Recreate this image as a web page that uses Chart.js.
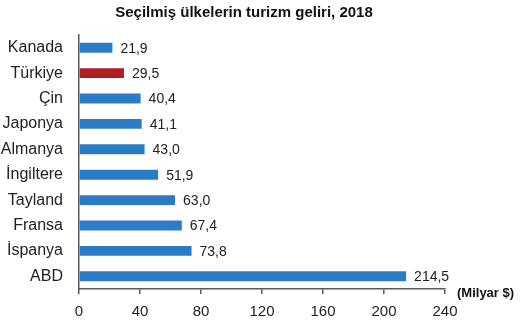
<!DOCTYPE html>
<html>
<head>
<meta charset="utf-8">
<script src="https://cdn.jsdelivr.net/npm/chart.js@4/dist/chart.umd.min.js"></script>
<style>
  html, body { margin: 0; padding: 0; background: #fff; }
  #wrap { width: 523px; height: 334px; position: relative; }
</style>
</head>
<body>
<div id="wrap"><canvas id="chart"></canvas></div>
<script>
// Seçilmiş ülkelerin turizm geliri, 2018 (milyar $)
const title = 'Seçilmiş ülkelerin turizm geliri, 2018';
const countries = ['Kanada', 'Türkiye', 'Çin', 'Japonya', 'Almanya', 'İngiltere', 'Tayland', 'Fransa', 'İspanya', 'ABD'];
const revenue = [21.9, 29.5, 40.4, 41.1, 43.0, 51.9, 63.0, 67.4, 73.8, 214.5];
const xTicks = [0, 40, 80, 120, 160, 200, 240];

const BLUE = '#2b7cc7';
const RED = '#b01f24';
const AXIS = '#595959';
const FONT = '"Liberation Sans", Arial, sans-serif';

const barColors = countries.map((c) => (c === 'Türkiye' ? RED : BLUE));

// başlık, değer etiketleri (virgüllü) ve birim yazısı
const labelPlugin = {
    id: 'valueLabels',
    afterDatasetsDraw(chart) {
        const { ctx } = chart;
        const meta = chart.getDatasetMeta(0);
        ctx.save();
        ctx.textBaseline = 'middle';

        ctx.font = 'bold 15px ' + FONT;
        ctx.fillStyle = '#111';
        ctx.textAlign = 'center';
        ctx.fillText(title, 244, 13);

        ctx.font = '14px ' + FONT;
        ctx.fillStyle = '#222';
        ctx.textAlign = 'left';
        meta.data.forEach((bar, i) => {
            ctx.fillText(revenue[i].toFixed(1).replace('.', ','), bar.x + 8, bar.y + 1);
        });

        const x = chart.scales.x;
        ctx.font = 'bold 13px ' + FONT;
        ctx.fillStyle = '#111';
        ctx.fillText('(Milyar $)', x.right + 12, x.top + 4);
        ctx.restore();
    },
};

new Chart(document.getElementById('chart'), {
    type: 'bar',
    data: {
        labels: countries,
        datasets: [{
            data: revenue,
            backgroundColor: barColors,
            barPercentage: 0.78,
            categoryPercentage: 0.5,
        }],
    },
    options: {
        indexAxis: 'y',
        responsive: true,
        maintainAspectRatio: false,
        animation: false,
        layout: { padding: { top: 35, right: 78, bottom: 0, left: 0 } },
        scales: {
            x: {
                min: 0,
                max: 240,
                afterBuildTicks: (axis) => { axis.ticks = xTicks.map((v) => ({ value: v })); },
                afterFit: (axis) => { axis.height = 45; },
                border: { display: true, color: AXIS, width: 1.5 },
                grid: { display: true, drawOnChartArea: false, drawTicks: true, tickLength: 5, color: AXIS, lineWidth: 1.5 },
                ticks: { color: '#222', font: { family: FONT, size: 15 }, padding: 9, maxRotation: 0 },
            },
            y: {
                afterFit: (axis) => { axis.width = 79; },
                border: { display: true, color: AXIS, width: 1.5 },
                grid: { display: false, drawTicks: false },
                ticks: { color: '#222', font: { family: FONT, size: 16 }, padding: 16 },
            },
        },
        plugins: {
            legend: { display: false },
            tooltip: { enabled: false },
        },
    },
    plugins: [labelPlugin],
});
</script>
</body>
</html>
